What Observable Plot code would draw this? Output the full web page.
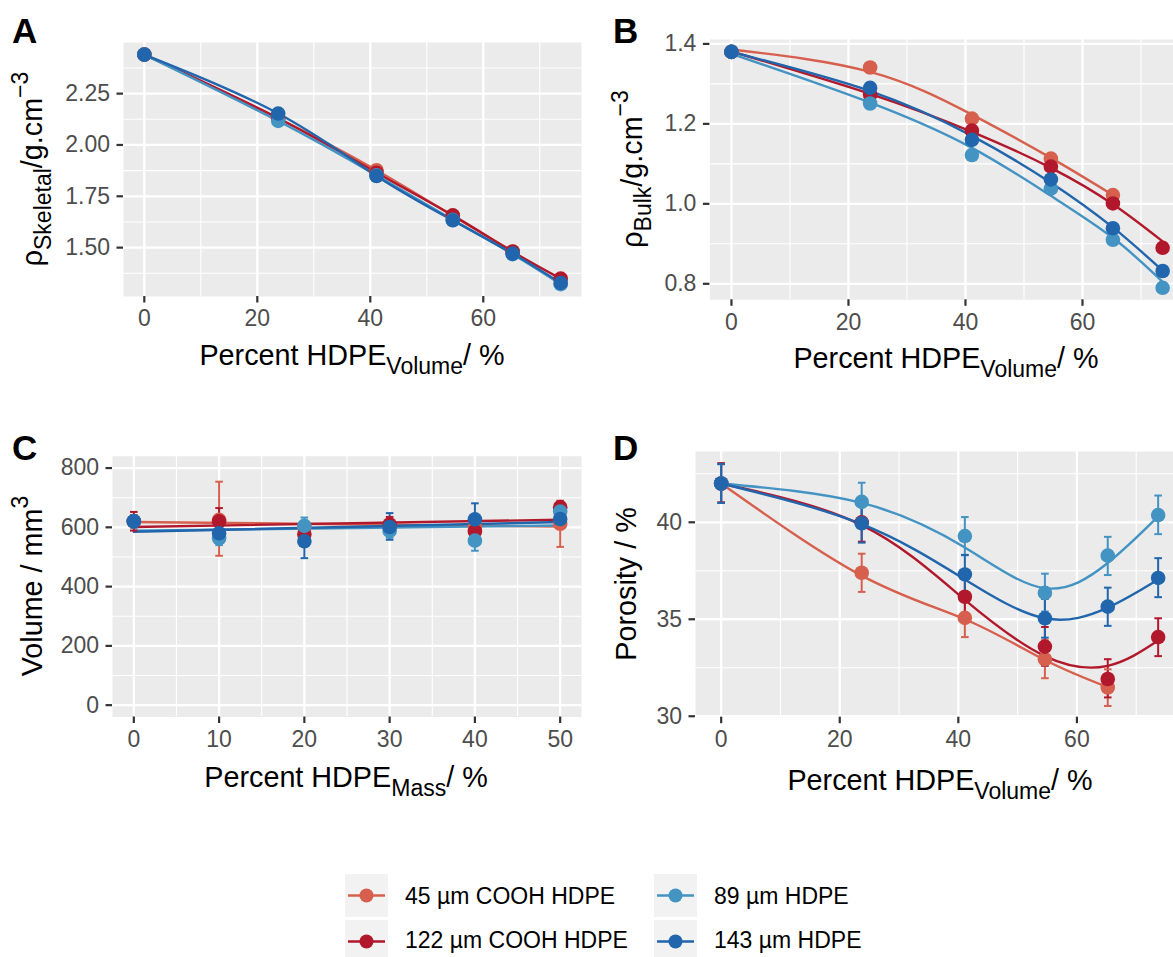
<!DOCTYPE html>
<html><head><meta charset="utf-8">
<script src="https://cdn.jsdelivr.net/npm/d3@7"></script>
<script src="https://cdn.jsdelivr.net/npm/@observablehq/plot@0.6"></script>
<style>
html,body{margin:0;padding:0;background:#fff;overflow:hidden;}
#fig{position:relative;width:1173px;height:957px;overflow:hidden;background:#fff;}
#fig svg{position:absolute;}
</style></head><body><div id="fig"></div>
<script>
const FONT = '"Liberation Sans", Arial, Helvetica, sans-serif';

// ---- series ----
const seriesNames = ["45 µm COOH HDPE", "122 µm COOH HDPE", "89 µm HDPE", "143 µm HDPE"];
const seriesColors = ["#D6604D", "#B2182B", "#4393C3", "#2166AC"];

// ---- x values ----
const volumePct = [0, 23.7, 41.1, 54.6, 65.2, 73.7];
const massPct = [0, 10, 20, 30, 40, 50];

// ---- A: skeletal density (g/cm3) ----
const skel45 = [2.44, 2.13, 1.877, 1.655, 1.482];
const skel122 = [2.44, 2.13, 1.865, 1.657, 1.48, 1.349];
const skel89 = [2.44, 2.117, 1.852, 1.635, 1.468, 1.322];
const skel143 = [2.44, 2.153, 1.849, 1.633, 1.471, 1.328];

// ---- B: bulk density (g/cm3) and fitted curve ----
const bulk45 = [1.38, 1.341, 1.213, 1.113, 1.022];
const bulk122 = [1.38, 1.273, 1.183, 1.093, 1.001, 0.890];
const bulk89 = [1.38, 1.251, 1.122, 1.038, 0.910, 0.790];
const bulk143 = [1.38, 1.290, 1.160, 1.061, 0.939, 0.832];
const bulkFit45 = [1.386, 1.330, 1.223, 1.115, 1.022];
const bulkFit122 = [1.381, 1.275, 1.180, 1.090, 0.999, 0.906];
const bulkFit89 = [1.375, 1.253, 1.140, 1.020, 0.915, 0.805];
const bulkFit143 = [1.380, 1.282, 1.170, 1.053, 0.941, 0.833];

// ---- C: volume (mm3) with error bars ----
const vol45 = [620, 625, 600, 605, 600, 612];
const vol45Lo = [600, 504, 585, 590, 580, 534];
const vol45Hi = [640, 754, 615, 620, 620, 690];
const vol122 = [620, 620, 577, 610, 586, 668];
const vol122Lo = [589, 580, 545, 590, 565, 650];
const vol122Hi = [652, 665, 610, 635, 610, 686];
const vol89 = [620, 563, 605, 588, 555, 653];
const vol89Lo = [600, 540, 580, 565, 521, 635];
const vol89Hi = [640, 590, 633, 612, 585, 672];
const vol143 = [620, 580, 553, 601, 627, 628];
const vol143Lo = [600, 550, 496, 558, 575, 605];
const vol143Hi = [640, 610, 615, 648, 681, 650];

// ---- D: porosity (%) with error bars and fitted curve ----
const por45 = [42.0, 37.4, 35.07, 32.94, 31.48];
const por45Lo = [41.0, 36.41, 34.08, 31.96, 30.53];
const por45Hi = [43.0, 38.38, 36.05, 33.92, 32.42];
const por122 = [42.0, 40.0, 36.16, 33.59, 31.92, 34.08];
const por122Lo = [41.03, 39.0, 35.2, 32.6, 30.97, 33.1];
const por122Hi = [43.05, 41.0, 37.1, 34.6, 32.94, 35.05];
const por89 = [42.0, 41.05, 39.29, 36.36, 38.28, 40.37];
const por89Lo = [41.0, 40.05, 38.3, 35.4, 37.28, 39.39];
const por89Hi = [43.0, 42.04, 40.27, 37.35, 39.25, 41.38];
const por143 = [42.0, 39.95, 37.31, 35.05, 35.65, 37.13];
const por143Lo = [41.0, 38.95, 36.3, 34.05, 34.66, 36.14];
const por143Hi = [43.0, 40.95, 38.32, 36.05, 36.63, 38.15];
const porFit45 = [42.0, 37.25, 35.0, 32.9, 31.5];
const porFit122 = [42.0, 39.85, 36.0, 33.1, 32.6, 33.9];
const porFit89 = [42.0, 41.0, 38.7, 36.6, 37.9, 40.3];
const porFit143 = [42.0, 39.9, 37.05, 35.05, 35.6, 37.05];

// ---- ticks ----
const volTicks = [0, 20, 40, 60];
const volMinor = [10, 30, 50, 70];
const massTicks = [0, 10, 20, 30, 40, 50];
const massMinor = [5, 15, 25, 35, 45];
const skelTicks = [1.50, 1.75, 2.00, 2.25];
const skelMinor = [1.375, 1.625, 1.875, 2.125, 2.375];
const bulkTicks = [0.8, 1.0, 1.2, 1.4];
const bulkMinor = [0.9, 1.1, 1.3];
const volumeTicks = [0, 200, 400, 600, 800];
const volumeMinor = [100, 300, 500, 700];
const porTicks = [30, 35, 40];
const porMinor = [32.5, 37.5, 42.5];

// ---- build tables ----
function table(xs, list) {
  const out = [];
  list.forEach(({name, y, lo, hi}) => {
    y.forEach((v, i) => out.push({x: xs[i], y: v, lo: lo ? lo[i] : null, hi: hi ? hi[i] : null, s: name}));
  });
  return out;
}
const [n45, n122, n89, n143] = seriesNames;
const dataA = table(volumePct, [{name: n45, y: skel45}, {name: n122, y: skel122}, {name: n89, y: skel89}, {name: n143, y: skel143}]);
const dataB = table(volumePct, [{name: n45, y: bulk45}, {name: n122, y: bulk122}, {name: n89, y: bulk89}, {name: n143, y: bulk143}]);
const fitB = table(volumePct, [{name: n45, y: bulkFit45}, {name: n122, y: bulkFit122}, {name: n89, y: bulkFit89}, {name: n143, y: bulkFit143}]);
const dataC = table(massPct, [
  {name: n45, y: vol45, lo: vol45Lo, hi: vol45Hi},
  {name: n122, y: vol122, lo: vol122Lo, hi: vol122Hi},
  {name: n89, y: vol89, lo: vol89Lo, hi: vol89Hi},
  {name: n143, y: vol143, lo: vol143Lo, hi: vol143Hi}]);
const dataD = table(volumePct, [
  {name: n45, y: por45, lo: por45Lo, hi: por45Hi},
  {name: n122, y: por122, lo: por122Lo, hi: por122Hi},
  {name: n89, y: por89, lo: por89Lo, hi: por89Hi},
  {name: n143, y: por143, lo: por143Lo, hi: por143Hi}]);
const fitD = table(volumePct, [{name: n45, y: porFit45}, {name: n122, y: porFit122}, {name: n89, y: porFit89}, {name: n143, y: porFit143}]);

const capSymbol = {draw(ctx) { ctx.moveTo(-3.8, 0); ctx.lineTo(3.8, 0); }};
const LW = 2.4, PR = 7.3;

function lineMarks(data, curve) {
  return Plot.line(data, {x: "x", y: "y", z: "s", stroke: "s", strokeWidth: LW, curve});
}
function pointMarks(data) {
  return Plot.dot(data, {x: "x", y: "y", fill: "s", r: PR, stroke: null});
}
function errMarks(data) {
  return [
    Plot.ruleX(data, {x: "x", y1: "lo", y2: "hi", stroke: "s", strokeWidth: 2}),
    Plot.dot(data, {x: "x", y: "lo", symbol: capSymbol, stroke: "s", fill: "none", strokeWidth: 2}),
    Plot.dot(data, {x: "x", y: "hi", symbol: capSymbol, stroke: "s", fill: "none", strokeWidth: 2})
  ];
}

const fig = document.getElementById("fig");

function panel(o) {
  const p = Plot.plot({
    width: o.width, height: o.height,
    marginLeft: o.mL, marginRight: o.mR, marginTop: o.mT, marginBottom: o.mB,
    style: {fontFamily: FONT, fontSize: "23px", background: "transparent", overflow: "visible", maxWidth: "none"},
    x: {domain: o.xDomain, label: null},
    y: {domain: o.yDomain, label: null},
    color: {domain: seriesNames, range: seriesColors},
    marks: [
      Plot.frame({fill: "#EBEBEB", stroke: "none"}),
      Plot.ruleX(o.xMinor, {stroke: "white", strokeWidth: 1.1}),
      Plot.ruleY(o.yMinor, {stroke: "white", strokeWidth: 1.1}),
      Plot.ruleX(o.xTicks, {stroke: "white", strokeWidth: 2.3}),
      Plot.ruleY(o.yTicks, {stroke: "white", strokeWidth: 2.3}),
      ...o.marks,
      Plot.axisX(o.xTicks, {tickSize: 6.5, tickPadding: 7, stroke: "#333333", strokeWidth: 2.2, fill: "#4D4D4D", fontSize: 23, label: null, tickFormat: o.xFormat || (d => String(d))}),
      Plot.axisY(o.yTicks, {tickSize: 6.5, tickPadding: 7, stroke: "#333333", strokeWidth: 2.2, fill: "#4D4D4D", fontSize: 23, label: null, tickFormat: o.yFormat || (d => String(d))})
    ]
  });
  p.style.left = o.left + "px";
  p.style.top = o.top + "px";
  fig.appendChild(p);
}

// A
panel({left: 0, top: 0, width: 600, height: 400, mL: 123, mR: 19, mT: 42, mB: 104,
  xDomain: [-3.685, 77.385], yDomain: [1.262, 2.499],
  xTicks: volTicks, xMinor: volMinor, yTicks: skelTicks, yMinor: skelMinor, yFormat: d3.format(".2f"),
  marks: [lineMarks(dataA, "natural"), pointMarks(dataA)]});
// B
panel({left: 590, top: 0, width: 610, height: 400, mL: 119.4, mR: 16.3, mT: 39, mB: 100.7,
  xDomain: [-3.685, 77.385], yDomain: [0.76, 1.411],
  xTicks: volTicks, xMinor: volMinor, yTicks: bulkTicks, yMinor: bulkMinor, yFormat: d3.format(".1f"),
  marks: [lineMarks(fitB, "natural"), pointMarks(dataB)]});
// C
panel({left: 0, top: 420, width: 600, height: 400, mL: 112, mR: 19, mT: 35.7, mB: 103.5,
  xDomain: [-2.5, 52.5], yDomain: [-40, 840],
  xTicks: massTicks, xMinor: massMinor, yTicks: volumeTicks, yMinor: volumeMinor,
  marks: [
    Plot.linearRegressionY(dataC, {x: "x", y: "y", z: "s", stroke: "s", strokeWidth: LW, ci: 0}),
    ...errMarks(dataC), pointMarks(dataC)]});
// D
panel({left: 590, top: 420, width: 620, height: 400, mL: 105, mR: 15, mT: 31, mB: 103.3,
  xDomain: [-4.33, 80], yDomain: [29.95, 43.65],
  xTicks: volTicks, xMinor: volMinor, yTicks: porTicks, yMinor: porMinor,
  marks: [lineMarks(fitD, "natural"), ...errMarks(dataD), pointMarks(dataD)]});

// ---- overlay: titles, tags, legend ----
const svg = d3.select(fig).append("svg")
  .attr("width", 1173).attr("height", 957)
  .style("left", "0px").style("top", "0px")
  .attr("font-family", FONT);

function rich(x, y, parts, {rotate = 0, size = 28.75, anchor = "middle", weight = "normal", fill = "#000"} = {}) {
  const t = svg.append("text")
    .attr("transform", `translate(${x},${y}) rotate(${rotate})`)
    .attr("text-anchor", anchor).attr("font-size", size).attr("font-weight", weight).attr("fill", fill);
  let shift = 0;
  parts.forEach(([txt, kind]) => {
    let target = 0, fs = size;
    if (kind === "sub") { target = 0.3 * size; fs = 0.8 * size; }
    if (kind === "sup") { target = -0.48 * size; fs = 0.8 * size; }
    t.append("tspan").attr("dy", target - shift).attr("font-size", fs).text(txt);
    shift = target;
  });
}

// tags
rich(12, 42.5, [["A", ""]], {anchor: "start", size: 35, weight: "bold"});
rich(613, 42.5, [["B", ""]], {anchor: "start", size: 35, weight: "bold"});
rich(12, 460, [["C", ""]], {anchor: "start", size: 35, weight: "bold"});
rich(613, 460, [["D", ""]], {anchor: "start", size: 35, weight: "bold"});

// x titles
const xVol = [["Percent HDPE", ""], ["Volume", "sub"], ["/ %", ""]];
rich(352, 365, xVol);
rich(946, 368, xVol);
rich(346, 787, [["Percent HDPE", ""], ["Mass", "sub"], ["/ %", ""]]);
rich(940, 790, xVol);

// y titles
rich(42, 169, [["ρ", ""], ["Skeletal", "sub"], ["/g.cm", ""], ["−3", "sup"]], {rotate: -90});
rich(642, 169, [["ρ", ""], ["Bulk", "sub"], ["/g.cm", ""], ["−3", "sup"]], {rotate: -90});
rich(42, 586, [["Volume / mm", ""], ["3", "sup"]], {rotate: -90});
rich(636, 584, [["Porosity / %", ""]], {rotate: -90});

// legend
const keyX = [345, 654], keyY = [874, 920], textX = [405, 714], textY = [904, 948];
seriesNames.forEach((name, i) => {
  const col = Math.floor(i / 2), row = i % 2;
  const kx = keyX[col], ky = keyY[row], k = 43;
  svg.append("rect").attr("x", kx).attr("y", ky).attr("width", k).attr("height", k).attr("fill", "#F2F2F2");
  svg.append("line").attr("x1", kx + 3).attr("x2", kx + k - 3).attr("y1", ky + k / 2).attr("y2", ky + k / 2)
    .attr("stroke", seriesColors[i]).attr("stroke-width", LW);
  svg.append("circle").attr("cx", kx + k / 2).attr("cy", ky + k / 2).attr("r", 7).attr("fill", seriesColors[i]);
  svg.append("text").attr("x", textX[col]).attr("y", textY[row]).attr("font-size", 23).attr("fill", "#000").text(name);
});
</script></body></html>
